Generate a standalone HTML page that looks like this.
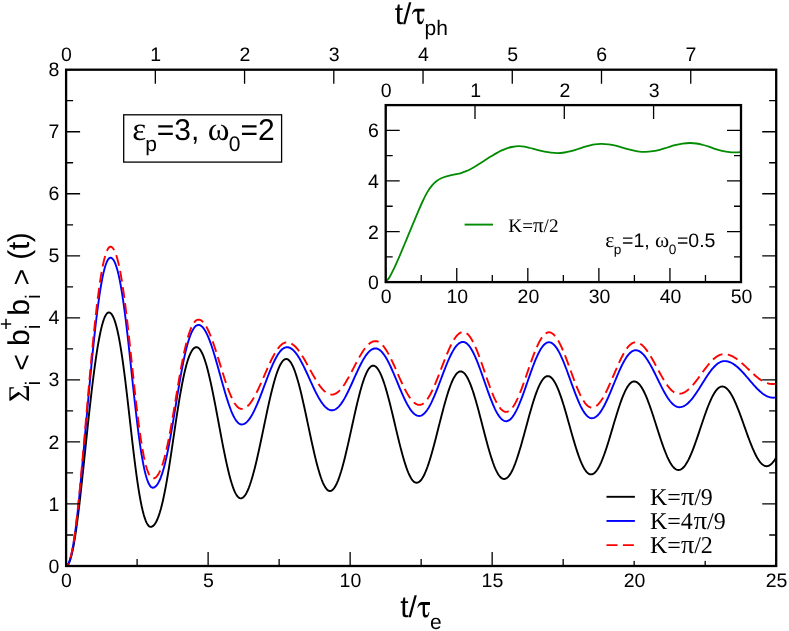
<!DOCTYPE html>
<html><head><meta charset="utf-8"><title>plot</title>
<style>
html,body{margin:0;padding:0;background:#fff;}
body{width:789px;height:631px;overflow:hidden;font-family:"Liberation Sans",sans-serif;}
svg{display:block;will-change:transform;}
text{fill:#000;text-rendering:geometricPrecision;}
</style></head><body>
<svg width="789" height="631" viewBox="0 0 789 631">
<rect x="0" y="0" width="789" height="631" fill="#fff"/>
<g fill="none" stroke-linejoin="round">
<path d="M66.10,566.00 L67.12,565.62 L68.14,564.49 L69.16,562.60 L70.18,559.95 L71.20,556.54 L72.21,552.38 L73.23,547.48 L74.25,541.87 L75.27,535.58 L76.29,528.65 L77.31,521.12 L78.33,513.07 L79.35,504.56 L80.37,495.66 L81.39,486.44 L82.41,476.98 L83.43,467.35 L84.44,457.62 L85.46,447.86 L86.48,438.13 L87.50,428.48 L88.52,418.97 L89.54,409.65 L90.56,400.56 L91.58,391.75 L92.60,383.25 L93.62,375.10 L94.64,367.34 L95.66,360.00 L96.67,353.12 L97.69,346.72 L98.71,340.82 L99.73,335.45 L100.75,330.62 L101.77,326.35 L102.79,322.64 L103.81,319.51 L104.83,316.94 L105.85,314.95 L106.87,313.53 L107.89,312.67 L108.90,312.39 L109.93,312.64 L110.95,313.40 L111.97,314.67 L112.99,316.46 L114.01,318.78 L115.03,321.64 L116.05,325.05 L117.07,329.02 L118.09,333.55 L119.11,338.65 L120.13,344.31 L121.15,350.52 L122.17,357.24 L123.19,364.46 L124.21,372.12 L125.23,380.19 L126.25,388.59 L127.27,397.26 L128.29,406.14 L129.31,415.13 L130.33,424.17 L131.36,433.17 L132.38,442.04 L133.40,450.72 L134.42,459.12 L135.44,467.18 L136.46,474.85 L137.48,482.07 L138.50,488.79 L139.52,495.00 L140.54,500.65 L141.56,505.76 L142.58,510.29 L143.60,514.26 L144.62,517.67 L145.64,520.53 L146.66,522.85 L147.68,524.64 L148.70,525.91 L149.72,526.66 L150.74,526.92 L151.76,526.74 L152.78,526.21 L153.79,525.33 L154.81,524.09 L155.83,522.48 L156.84,520.50 L157.86,518.14 L158.87,515.40 L159.89,512.26 L160.91,508.73 L161.92,504.81 L162.94,500.50 L163.95,495.80 L164.97,490.75 L165.99,485.34 L167.00,479.61 L168.02,473.59 L169.04,467.31 L170.05,460.82 L171.07,454.15 L172.08,447.35 L173.10,440.47 L174.12,433.57 L175.13,426.70 L176.15,419.90 L177.17,413.23 L178.18,406.73 L179.20,400.45 L180.21,394.43 L181.23,388.71 L182.25,383.30 L183.26,378.24 L184.28,373.55 L185.30,369.24 L186.31,365.32 L187.33,361.79 L188.34,358.65 L189.36,355.90 L190.38,353.54 L191.39,351.56 L192.41,349.96 L193.43,348.72 L194.44,347.83 L195.46,347.31 L196.47,347.13 L197.48,347.32 L198.49,347.90 L199.49,348.86 L200.50,350.19 L201.50,351.90 L202.51,353.97 L203.51,356.38 L204.52,359.14 L205.53,362.22 L206.53,365.60 L207.54,369.28 L208.54,373.23 L209.55,377.44 L210.55,381.87 L211.56,386.51 L212.57,391.34 L213.57,396.33 L214.58,401.45 L215.58,406.68 L216.59,411.99 L217.60,417.36 L218.60,422.76 L219.61,428.15 L220.61,433.52 L221.62,438.83 L222.62,444.06 L223.63,449.18 L224.64,454.17 L225.64,459.00 L226.65,463.64 L227.65,468.08 L228.66,472.28 L229.66,476.23 L230.67,479.91 L231.68,483.30 L232.68,486.37 L233.69,489.13 L234.69,491.55 L235.70,493.61 L236.70,495.32 L237.71,496.65 L238.72,497.61 L239.72,498.19 L240.73,498.38 L241.74,498.21 L242.75,497.70 L243.76,496.86 L244.77,495.68 L245.78,494.18 L246.79,492.35 L247.81,490.22 L248.82,487.79 L249.83,485.07 L250.84,482.07 L251.85,478.82 L252.86,475.32 L253.87,471.59 L254.88,467.66 L255.90,463.53 L256.91,459.23 L257.92,454.79 L258.93,450.22 L259.94,445.54 L260.95,440.78 L261.96,435.97 L262.97,431.11 L263.98,426.25 L265.00,421.39 L266.01,416.58 L267.02,411.82 L268.03,407.14 L269.04,402.57 L270.05,398.13 L271.06,393.83 L272.07,389.70 L273.09,385.77 L274.10,382.04 L275.11,378.54 L276.12,375.29 L277.13,372.29 L278.14,369.57 L279.15,367.14 L280.16,365.01 L281.18,363.18 L282.19,361.68 L283.20,360.50 L284.21,359.66 L285.22,359.15 L286.23,358.98 L287.25,359.16 L288.27,359.68 L289.28,360.56 L290.30,361.78 L291.32,363.34 L292.33,365.22 L293.35,367.43 L294.37,369.94 L295.39,372.74 L296.40,375.83 L297.42,379.17 L298.44,382.77 L299.46,386.58 L300.47,390.60 L301.49,394.81 L302.51,399.17 L303.52,403.68 L304.54,408.29 L305.56,413.00 L306.58,417.77 L307.59,422.58 L308.61,427.40 L309.63,432.21 L310.65,436.98 L311.66,441.68 L312.68,446.30 L313.70,450.80 L314.71,455.17 L315.73,459.37 L316.75,463.40 L317.77,467.21 L318.78,470.80 L319.80,474.15 L320.82,477.23 L321.84,480.04 L322.85,482.55 L323.87,484.76 L324.89,486.64 L325.90,488.20 L326.92,489.42 L327.94,490.29 L328.96,490.82 L329.97,491.00 L330.98,490.83 L331.98,490.33 L332.99,489.50 L333.99,488.34 L334.99,486.86 L336.00,485.07 L337.00,482.98 L338.01,480.59 L339.01,477.93 L340.01,475.00 L341.02,471.82 L342.02,468.41 L343.03,464.78 L344.03,460.96 L345.03,456.97 L346.04,452.83 L347.04,448.55 L348.05,444.16 L349.05,439.69 L350.05,435.16 L351.06,430.60 L352.06,426.02 L353.07,421.45 L354.07,416.92 L355.07,412.45 L356.08,408.07 L357.08,403.79 L358.09,399.64 L359.09,395.65 L360.09,391.83 L361.10,388.21 L362.10,384.80 L363.11,381.62 L364.11,378.69 L365.11,376.03 L366.12,373.64 L367.12,371.55 L368.13,369.76 L369.13,368.28 L370.14,367.12 L371.14,366.29 L372.14,365.79 L373.15,365.62 L374.16,365.78 L375.17,366.24 L376.18,367.02 L377.19,368.10 L378.20,369.49 L379.21,371.16 L380.22,373.12 L381.23,375.35 L382.24,377.84 L383.25,380.57 L384.26,383.54 L385.28,386.73 L386.29,390.12 L387.30,393.69 L388.31,397.42 L389.32,401.30 L390.33,405.29 L391.34,409.39 L392.35,413.57 L393.36,417.80 L394.37,422.07 L395.38,426.35 L396.39,430.62 L397.40,434.86 L398.41,439.03 L399.42,443.13 L400.43,447.13 L401.45,451.01 L402.46,454.74 L403.47,458.31 L404.48,461.69 L405.49,464.88 L406.50,467.85 L407.51,470.59 L408.52,473.08 L409.53,475.31 L410.54,477.27 L411.55,478.94 L412.56,480.32 L413.57,481.41 L414.58,482.18 L415.59,482.65 L416.61,482.81 L417.61,482.67 L418.61,482.24 L419.61,481.53 L420.61,480.55 L421.61,479.30 L422.61,477.77 L423.61,475.99 L424.61,473.96 L425.61,471.70 L426.61,469.20 L427.61,466.49 L428.61,463.58 L429.61,460.48 L430.61,457.22 L431.61,453.80 L432.61,450.24 L433.62,446.57 L434.62,442.79 L435.62,438.94 L436.62,435.03 L437.62,431.07 L438.62,427.10 L439.62,423.12 L440.62,419.17 L441.62,415.26 L442.62,411.40 L443.62,407.63 L444.62,403.96 L445.62,400.40 L446.62,396.98 L447.62,393.71 L448.62,390.62 L449.63,387.71 L450.63,385.00 L451.63,382.50 L452.63,380.23 L453.63,378.20 L454.63,376.42 L455.63,374.90 L456.63,373.64 L457.63,372.66 L458.63,371.96 L459.63,371.53 L460.63,371.39 L461.64,371.53 L462.65,371.96 L463.66,372.68 L464.67,373.67 L465.68,374.94 L466.70,376.48 L467.71,378.27 L468.72,380.32 L469.73,382.61 L470.74,385.12 L471.75,387.85 L472.76,390.78 L473.77,393.89 L474.78,397.17 L475.79,400.60 L476.80,404.16 L477.81,407.83 L478.82,411.59 L479.83,415.43 L480.84,419.32 L481.86,423.24 L482.87,427.17 L483.88,431.09 L484.89,434.98 L485.90,438.82 L486.91,442.58 L487.92,446.25 L488.93,449.81 L489.94,453.24 L490.95,456.52 L491.96,459.63 L492.97,462.56 L493.98,465.29 L494.99,467.80 L496.00,470.09 L497.02,472.14 L498.03,473.93 L499.04,475.47 L500.05,476.74 L501.06,477.74 L502.07,478.45 L503.08,478.88 L504.09,479.02 L505.11,478.89 L506.12,478.48 L507.14,477.79 L508.16,476.84 L509.18,475.63 L510.19,474.16 L511.21,472.44 L512.23,470.48 L513.25,468.29 L514.26,465.89 L515.28,463.28 L516.30,460.48 L517.31,457.51 L518.33,454.37 L519.35,451.09 L520.37,447.69 L521.38,444.18 L522.40,440.58 L523.42,436.91 L524.43,433.19 L525.45,429.44 L526.47,425.68 L527.49,421.94 L528.50,418.22 L529.52,414.55 L530.54,410.95 L531.56,407.44 L532.57,404.03 L533.59,400.76 L534.61,397.62 L535.62,394.65 L536.64,391.85 L537.66,389.24 L538.68,386.83 L539.69,384.65 L540.71,382.69 L541.73,380.97 L542.75,379.50 L543.76,378.29 L544.78,377.33 L545.80,376.65 L546.81,376.24 L547.83,376.10 L548.84,376.23 L549.84,376.63 L550.84,377.28 L551.85,378.19 L552.85,379.35 L553.86,380.75 L554.86,382.39 L555.86,384.26 L556.87,386.35 L557.87,388.65 L558.88,391.14 L559.88,393.82 L560.88,396.66 L561.89,399.66 L562.89,402.79 L563.90,406.04 L564.90,409.39 L565.90,412.83 L566.91,416.34 L567.91,419.89 L568.92,423.47 L569.92,427.06 L570.92,430.65 L571.93,434.20 L572.93,437.70 L573.94,441.14 L574.94,444.50 L575.95,447.75 L576.95,450.88 L577.95,453.87 L578.96,456.72 L579.96,459.39 L580.97,461.88 L581.97,464.18 L582.97,466.27 L583.98,468.14 L584.98,469.78 L585.99,471.19 L586.99,472.35 L587.99,473.26 L589.00,473.91 L590.00,474.30 L591.01,474.43 L592.01,474.31 L593.01,473.94 L594.02,473.32 L595.02,472.46 L596.03,471.36 L597.03,470.04 L598.03,468.48 L599.04,466.71 L600.04,464.74 L601.05,462.57 L602.05,460.21 L603.05,457.68 L604.06,454.99 L605.06,452.16 L606.07,449.20 L607.07,446.12 L608.07,442.95 L609.08,439.70 L610.08,436.38 L611.09,433.02 L612.09,429.63 L613.09,426.24 L614.10,422.85 L615.10,419.49 L616.11,416.17 L617.11,412.92 L618.12,409.75 L619.12,406.68 L620.12,403.71 L621.13,400.88 L622.13,398.19 L623.14,395.66 L624.14,393.31 L625.14,391.13 L626.15,389.16 L627.15,387.39 L628.16,385.83 L629.16,384.51 L630.16,383.41 L631.17,382.55 L632.17,381.93 L633.18,381.56 L634.18,381.44 L635.19,381.55 L636.19,381.89 L637.20,382.45 L638.21,383.23 L639.22,384.23 L640.22,385.44 L641.23,386.86 L642.24,388.47 L643.24,390.27 L644.25,392.26 L645.26,394.41 L646.26,396.73 L647.27,399.19 L648.28,401.79 L649.29,404.50 L650.29,407.33 L651.30,410.25 L652.31,413.25 L653.31,416.32 L654.32,419.43 L655.33,422.57 L656.34,425.73 L657.34,428.89 L658.35,432.04 L659.36,435.15 L660.36,438.21 L661.37,441.21 L662.38,444.13 L663.38,446.96 L664.39,449.68 L665.40,452.28 L666.41,454.74 L667.41,457.05 L668.42,459.21 L669.43,461.19 L670.43,463.00 L671.44,464.61 L672.45,466.03 L673.45,467.24 L674.46,468.23 L675.47,469.02 L676.48,469.58 L677.48,469.92 L678.49,470.03 L679.51,469.92 L680.52,469.58 L681.54,469.03 L682.56,468.26 L683.58,467.27 L684.59,466.08 L685.61,464.69 L686.63,463.10 L687.65,461.32 L688.66,459.37 L689.68,457.26 L690.70,454.98 L691.71,452.57 L692.73,450.03 L693.75,447.37 L694.77,444.61 L695.78,441.76 L696.80,438.84 L697.82,435.86 L698.84,432.84 L699.85,429.80 L700.87,426.75 L701.89,423.71 L702.90,420.69 L703.92,417.72 L704.94,414.80 L705.96,411.95 L706.97,409.19 L707.99,406.53 L709.01,403.98 L710.03,401.57 L711.04,399.30 L712.06,397.18 L713.08,395.23 L714.09,393.46 L715.11,391.87 L716.13,390.47 L717.15,389.28 L718.16,388.30 L719.18,387.52 L720.20,386.97 L721.22,386.64 L722.23,386.53 L723.24,386.63 L724.25,386.93 L725.25,387.44 L726.26,388.14 L727.27,389.04 L728.27,390.12 L729.28,391.40 L730.29,392.85 L731.30,394.47 L732.30,396.25 L733.31,398.19 L734.32,400.27 L735.32,402.49 L736.33,404.82 L737.34,407.27 L738.35,409.81 L739.35,412.44 L740.36,415.13 L741.37,417.89 L742.37,420.69 L743.38,423.51 L744.39,426.35 L745.39,429.19 L746.40,432.02 L747.41,434.82 L748.42,437.57 L749.42,440.27 L750.43,442.90 L751.44,445.44 L752.44,447.89 L753.45,450.22 L754.46,452.44 L755.47,454.52 L756.47,456.45 L757.48,458.24 L758.49,459.86 L759.49,461.31 L760.50,462.58 L761.51,463.67 L762.51,464.57 L763.52,465.27 L764.53,465.78 L765.54,466.08 L766.54,466.18 L767.56,466.08 L768.58,465.78 L769.59,465.28 L770.61,464.59 L771.63,463.70 L772.65,462.63 L773.66,461.38 L774.68,459.95 L775.70,458.35" stroke="#000" stroke-width="1.9"/>
<path d="M66.10,566.00 L67.11,565.58 L68.12,564.33 L69.13,562.23 L70.14,559.29 L71.14,555.52 L72.15,550.91 L73.16,545.48 L74.17,539.25 L75.18,532.24 L76.19,524.51 L77.20,516.10 L78.21,507.07 L79.22,497.48 L80.23,487.42 L81.23,476.95 L82.24,466.16 L83.25,455.13 L84.26,443.92 L85.27,432.62 L86.28,421.30 L87.29,410.01 L88.30,398.81 L89.31,387.77 L90.32,376.94 L91.32,366.35 L92.33,356.07 L93.34,346.13 L94.35,336.57 L95.36,327.43 L96.37,318.74 L97.38,310.55 L98.39,302.87 L99.40,295.74 L100.41,289.19 L101.41,283.23 L102.42,277.87 L103.43,273.14 L104.44,269.03 L105.45,265.55 L106.46,262.71 L107.47,260.51 L108.48,258.93 L109.49,257.99 L110.50,257.67 L111.50,257.93 L112.51,258.71 L113.51,260.00 L114.52,261.83 L115.52,264.20 L116.53,267.11 L117.53,270.59 L118.54,274.64 L119.55,279.27 L120.55,284.48 L121.56,290.26 L122.56,296.60 L123.57,303.48 L124.57,310.87 L125.58,318.74 L126.59,327.03 L127.59,335.69 L128.60,344.66 L129.60,353.87 L130.61,363.24 L131.61,372.69 L132.62,382.14 L133.63,391.51 L134.63,400.72 L135.64,409.69 L136.64,418.35 L137.65,426.65 L138.65,434.51 L139.66,441.91 L140.66,448.79 L141.67,455.13 L142.68,460.91 L143.68,466.11 L144.69,470.74 L145.69,474.79 L146.70,478.27 L147.70,481.19 L148.71,483.55 L149.72,485.38 L150.72,486.68 L151.73,487.45 L152.73,487.71 L153.75,487.55 L154.76,487.07 L155.78,486.27 L156.80,485.15 L157.81,483.69 L158.83,481.90 L159.85,479.77 L160.86,477.28 L161.88,474.44 L162.89,471.24 L163.91,467.69 L164.93,463.79 L165.94,459.54 L166.96,454.96 L167.98,450.06 L168.99,444.88 L170.01,439.43 L171.02,433.74 L172.04,427.86 L173.06,421.82 L174.07,415.66 L175.09,409.44 L176.11,403.19 L177.12,396.97 L178.14,390.81 L179.15,384.77 L180.17,378.89 L181.19,373.20 L182.20,367.75 L183.22,362.57 L184.24,357.67 L185.25,353.09 L186.27,348.85 L187.28,344.94 L188.30,341.39 L189.32,338.19 L190.33,335.35 L191.35,332.87 L192.37,330.73 L193.38,328.94 L194.40,327.48 L195.41,326.36 L196.43,325.56 L197.45,325.08 L198.46,324.92 L199.47,325.06 L200.47,325.45 L201.47,326.11 L202.48,327.03 L203.48,328.21 L204.49,329.63 L205.49,331.29 L206.50,333.19 L207.50,335.30 L208.50,337.63 L209.51,340.15 L210.51,342.86 L211.52,345.74 L212.52,348.77 L213.52,351.94 L214.53,355.24 L215.53,358.63 L216.54,362.12 L217.54,365.66 L218.54,369.26 L219.55,372.89 L220.55,376.53 L221.56,380.15 L222.56,383.75 L223.56,387.30 L224.57,390.78 L225.57,394.18 L226.58,397.47 L227.58,400.64 L228.58,403.68 L229.59,406.55 L230.59,409.26 L231.60,411.79 L232.60,414.11 L233.60,416.23 L234.61,418.12 L235.61,419.79 L236.62,421.21 L237.62,422.38 L238.62,423.30 L239.63,423.96 L240.63,424.36 L241.64,424.49 L242.64,424.40 L243.65,424.12 L244.66,423.65 L245.66,423.00 L246.67,422.16 L247.68,421.15 L248.68,419.97 L249.69,418.62 L250.70,417.11 L251.70,415.45 L252.71,413.65 L253.72,411.70 L254.72,409.64 L255.73,407.46 L256.74,405.17 L257.74,402.79 L258.75,400.32 L259.76,397.79 L260.77,395.19 L261.77,392.55 L262.78,389.88 L263.79,387.19 L264.79,384.49 L265.80,381.80 L266.81,379.13 L267.81,376.49 L268.82,373.90 L269.83,371.36 L270.83,368.90 L271.84,366.52 L272.85,364.23 L273.85,362.05 L274.86,359.98 L275.87,358.04 L276.87,356.24 L277.88,354.58 L278.89,353.07 L279.89,351.72 L280.90,350.54 L281.91,349.52 L282.91,348.69 L283.92,348.04 L284.93,347.57 L285.93,347.29 L286.94,347.19 L287.94,347.27 L288.94,347.50 L289.94,347.88 L290.94,348.42 L291.94,349.10 L292.94,349.92 L293.94,350.89 L294.94,351.99 L295.95,353.22 L296.95,354.57 L297.95,356.05 L298.95,357.63 L299.95,359.32 L300.95,361.10 L301.95,362.97 L302.95,364.91 L303.95,366.92 L304.95,368.99 L305.95,371.11 L306.95,373.26 L307.95,375.44 L308.95,377.64 L309.95,379.84 L310.95,382.04 L311.95,384.22 L312.95,386.37 L313.95,388.49 L314.95,390.56 L315.95,392.57 L316.95,394.51 L317.96,396.38 L318.96,398.16 L319.96,399.85 L320.96,401.43 L321.96,402.91 L322.96,404.26 L323.96,405.49 L324.96,406.59 L325.96,407.56 L326.96,408.38 L327.96,409.06 L328.96,409.60 L329.96,409.98 L330.96,410.21 L331.96,410.29 L332.97,410.20 L333.98,409.96 L334.99,409.55 L336.00,408.97 L337.01,408.25 L338.03,407.36 L339.04,406.33 L340.05,405.15 L341.06,403.84 L342.07,402.39 L343.08,400.82 L344.09,399.14 L345.10,397.35 L346.11,395.47 L347.12,393.50 L348.13,391.46 L349.14,389.35 L350.15,387.18 L351.16,384.98 L352.17,382.74 L353.19,380.49 L354.20,378.23 L355.21,375.98 L356.22,373.74 L357.23,371.54 L358.24,369.37 L359.25,367.26 L360.26,365.22 L361.27,363.25 L362.28,361.37 L363.29,359.58 L364.30,357.90 L365.31,356.33 L366.32,354.88 L367.33,353.57 L368.34,352.39 L369.36,351.36 L370.37,350.48 L371.38,349.75 L372.39,349.17 L373.40,348.76 L374.41,348.52 L375.42,348.43 L376.44,348.52 L377.45,348.79 L378.47,349.24 L379.49,349.87 L380.51,350.66 L381.52,351.63 L382.54,352.75 L383.56,354.04 L384.57,355.47 L385.59,357.05 L386.61,358.76 L387.63,360.59 L388.64,362.55 L389.66,364.60 L390.68,366.75 L391.70,368.98 L392.71,371.29 L393.73,373.65 L394.75,376.05 L395.76,378.49 L396.78,380.95 L397.80,383.42 L398.82,385.87 L399.83,388.31 L400.85,390.72 L401.87,393.08 L402.89,395.38 L403.90,397.61 L404.92,399.76 L405.94,401.82 L406.95,403.77 L407.97,405.61 L408.99,407.32 L410.01,408.89 L411.02,410.33 L412.04,411.61 L413.06,412.74 L414.08,413.70 L415.09,414.50 L416.11,415.12 L417.13,415.57 L418.14,415.84 L419.16,415.93 L420.18,415.83 L421.20,415.54 L422.21,415.05 L423.23,414.36 L424.25,413.49 L425.27,412.43 L426.28,411.20 L427.30,409.79 L428.32,408.22 L429.33,406.49 L430.35,404.61 L431.37,402.60 L432.39,400.46 L433.40,398.20 L434.42,395.85 L435.44,393.40 L436.46,390.87 L437.47,388.29 L438.49,385.65 L439.51,382.97 L440.52,380.28 L441.54,377.57 L442.56,374.88 L443.58,372.20 L444.59,369.57 L445.61,366.98 L446.63,364.45 L447.64,362.01 L448.66,359.65 L449.68,357.39 L450.70,355.25 L451.71,353.24 L452.73,351.37 L453.75,349.64 L454.77,348.06 L455.78,346.66 L456.80,345.42 L457.82,344.36 L458.83,343.49 L459.85,342.81 L460.87,342.31 L461.89,342.02 L462.90,341.92 L463.91,342.03 L464.91,342.34 L465.92,342.87 L466.92,343.60 L467.92,344.54 L468.93,345.67 L469.93,346.99 L470.94,348.50 L471.94,350.19 L472.94,352.04 L473.95,354.05 L474.95,356.20 L475.96,358.50 L476.96,360.91 L477.96,363.44 L478.97,366.06 L479.97,368.76 L480.98,371.54 L481.98,374.36 L482.98,377.23 L483.99,380.11 L484.99,383.01 L486.00,385.90 L487.00,388.76 L488.01,391.59 L489.01,394.36 L490.01,397.07 L491.02,399.69 L492.02,402.21 L493.03,404.63 L494.03,406.92 L495.03,409.08 L496.04,411.09 L497.04,412.94 L498.05,414.62 L499.05,416.13 L500.05,417.46 L501.06,418.59 L502.06,419.52 L503.07,420.26 L504.07,420.78 L505.07,421.10 L506.08,421.20 L507.10,421.09 L508.12,420.76 L509.14,420.21 L510.16,419.45 L511.18,418.47 L512.21,417.29 L513.23,415.91 L514.25,414.34 L515.27,412.59 L516.29,410.66 L517.31,408.58 L518.33,406.34 L519.35,403.96 L520.37,401.46 L521.40,398.85 L522.42,396.14 L523.44,393.36 L524.46,390.50 L525.48,387.60 L526.50,384.67 L527.52,381.72 L528.54,378.77 L529.57,375.83 L530.59,372.93 L531.61,370.08 L532.63,367.29 L533.65,364.58 L534.67,361.97 L535.69,359.47 L536.71,357.10 L537.73,354.86 L538.76,352.77 L539.78,350.85 L540.80,349.09 L541.82,347.52 L542.84,346.14 L543.86,344.96 L544.88,343.99 L545.90,343.22 L546.93,342.67 L547.95,342.34 L548.97,342.23 L549.99,342.34 L551.01,342.66 L552.03,343.18 L553.05,343.92 L554.07,344.86 L555.10,345.99 L556.12,347.32 L557.14,348.83 L558.16,350.52 L559.18,352.37 L560.20,354.38 L561.22,356.54 L562.24,358.82 L563.26,361.23 L564.29,363.74 L565.31,366.35 L566.33,369.03 L567.35,371.77 L568.37,374.57 L569.39,377.39 L570.41,380.23 L571.43,383.07 L572.46,385.89 L573.48,388.68 L574.50,391.43 L575.52,394.11 L576.54,396.72 L577.56,399.23 L578.58,401.63 L579.60,403.92 L580.62,406.07 L581.65,408.08 L582.67,409.94 L583.69,411.62 L584.71,413.14 L585.73,414.46 L586.75,415.60 L587.77,416.54 L588.79,417.27 L589.82,417.80 L590.84,418.12 L591.86,418.23 L592.88,418.14 L593.89,417.86 L594.91,417.41 L595.93,416.79 L596.94,415.98 L597.96,415.01 L598.98,413.88 L600.00,412.58 L601.01,411.14 L602.03,409.55 L603.05,407.83 L604.07,405.98 L605.08,404.01 L606.10,401.94 L607.12,399.77 L608.13,397.53 L609.15,395.21 L610.17,392.83 L611.19,390.41 L612.20,387.95 L613.22,385.47 L614.24,382.99 L615.26,380.51 L616.27,378.06 L617.29,375.63 L618.31,373.25 L619.32,370.93 L620.34,368.69 L621.36,366.52 L622.38,364.45 L623.39,362.48 L624.41,360.63 L625.43,358.91 L626.44,357.32 L627.46,355.88 L628.48,354.58 L629.50,353.45 L630.51,352.48 L631.53,351.68 L632.55,351.05 L633.57,350.60 L634.58,350.32 L635.60,350.23 L636.62,350.31 L637.63,350.54 L638.65,350.91 L639.67,351.44 L640.69,352.11 L641.70,352.93 L642.72,353.88 L643.74,354.96 L644.76,356.17 L645.77,357.50 L646.79,358.94 L647.81,360.49 L648.82,362.14 L649.84,363.87 L650.86,365.69 L651.88,367.57 L652.89,369.51 L653.91,371.51 L654.93,373.54 L655.95,375.59 L656.96,377.67 L657.98,379.75 L659.00,381.82 L660.01,383.88 L661.03,385.91 L662.05,387.90 L663.07,389.85 L664.08,391.73 L665.10,393.54 L666.12,395.28 L667.14,396.92 L668.15,398.47 L669.17,399.92 L670.19,401.25 L671.20,402.46 L672.22,403.54 L673.24,404.49 L674.26,405.31 L675.27,405.98 L676.29,406.50 L677.31,406.88 L678.33,407.11 L679.34,407.18 L680.35,407.13 L681.35,406.96 L682.35,406.68 L683.36,406.29 L684.36,405.79 L685.36,405.19 L686.37,404.49 L687.37,403.68 L688.37,402.78 L689.38,401.79 L690.38,400.72 L691.39,399.56 L692.39,398.33 L693.39,397.02 L694.40,395.66 L695.40,394.24 L696.40,392.77 L697.41,391.26 L698.41,389.71 L699.41,388.14 L700.42,386.55 L701.42,384.94 L702.43,383.33 L703.43,381.73 L704.43,380.14 L705.44,378.56 L706.44,377.02 L707.44,375.50 L708.45,374.03 L709.45,372.61 L710.45,371.25 L711.46,369.95 L712.46,368.72 L713.47,367.56 L714.47,366.48 L715.47,365.49 L716.48,364.59 L717.48,363.79 L718.48,363.08 L719.49,362.48 L720.49,361.98 L721.49,361.59 L722.50,361.31 L723.50,361.15 L724.50,361.09 L725.52,361.13 L726.54,361.25 L727.56,361.44 L728.58,361.71 L729.59,362.06 L730.61,362.48 L731.63,362.98 L732.65,363.54 L733.67,364.17 L734.68,364.87 L735.70,365.63 L736.72,366.45 L737.74,367.32 L738.75,368.25 L739.77,369.22 L740.79,370.24 L741.81,371.30 L742.83,372.39 L743.84,373.51 L744.86,374.65 L745.88,375.82 L746.90,377.00 L747.91,378.19 L748.93,379.39 L749.95,380.59 L750.97,381.78 L751.99,382.96 L753.00,384.13 L754.02,385.27 L755.04,386.39 L756.06,387.49 L757.07,388.54 L758.09,389.56 L759.11,390.53 L760.13,391.46 L761.15,392.33 L762.16,393.15 L763.18,393.91 L764.20,394.61 L765.22,395.24 L766.23,395.80 L767.25,396.30 L768.27,396.72 L769.29,397.07 L770.31,397.34 L771.32,397.54 L772.34,397.65 L773.36,397.69 L774.37,397.65 L775.39,397.52" stroke="#00f" stroke-width="1.9"/>
<path d="M66.10,566.00 L67.11,565.57 L68.12,564.27 L69.13,562.10 L70.14,559.05 L71.14,555.14 L72.15,550.37 L73.16,544.75 L74.17,538.29 L75.18,531.04 L76.19,523.03 L77.20,514.32 L78.21,504.97 L79.22,495.04 L80.23,484.62 L81.23,473.78 L82.24,462.61 L83.25,451.18 L84.26,439.58 L85.27,427.87 L86.28,416.14 L87.29,404.45 L88.30,392.86 L89.31,381.42 L90.32,370.20 L91.32,359.24 L92.33,348.59 L93.34,338.30 L94.35,328.40 L95.36,318.93 L96.37,309.94 L97.38,301.45 L98.39,293.50 L99.40,286.12 L100.41,279.33 L101.41,273.15 L102.42,267.61 L103.43,262.71 L104.44,258.45 L105.45,254.85 L106.46,251.91 L107.47,249.63 L108.48,248.00 L109.49,247.02 L110.50,246.69 L111.51,246.95 L112.52,247.73 L113.53,249.04 L114.55,250.88 L115.56,253.27 L116.57,256.21 L117.58,259.71 L118.59,263.80 L119.61,268.46 L120.62,273.71 L121.63,279.53 L122.64,285.92 L123.66,292.85 L124.67,300.30 L125.68,308.23 L126.69,316.59 L127.71,325.32 L128.72,334.36 L129.73,343.64 L130.74,353.09 L131.76,362.61 L132.77,372.13 L133.78,381.58 L134.79,390.86 L135.81,399.90 L136.82,408.63 L137.83,416.99 L138.84,424.92 L139.86,432.37 L140.87,439.30 L141.88,445.69 L142.89,451.51 L143.90,456.76 L144.92,461.42 L145.93,465.51 L146.94,469.01 L147.95,471.95 L148.97,474.34 L149.98,476.18 L150.99,477.49 L152.00,478.27 L153.02,478.53 L154.03,478.37 L155.04,477.91 L156.05,477.13 L157.06,476.03 L158.07,474.61 L159.08,472.86 L160.09,470.77 L161.10,468.34 L162.11,465.57 L163.12,462.45 L164.13,458.98 L165.14,455.17 L166.15,451.02 L167.16,446.55 L168.17,441.77 L169.17,436.71 L170.18,431.39 L171.19,425.84 L172.20,420.09 L173.21,414.20 L174.22,408.19 L175.23,402.11 L176.24,396.01 L177.25,389.93 L178.26,383.92 L179.27,378.02 L180.28,372.28 L181.29,366.73 L182.30,361.41 L183.31,356.34 L184.32,351.56 L185.33,347.09 L186.34,342.94 L187.35,339.13 L188.36,335.66 L189.37,332.54 L190.38,329.77 L191.39,327.34 L192.40,325.26 L193.41,323.51 L194.42,322.09 L195.43,320.99 L196.44,320.21 L197.45,319.74 L198.46,319.59 L199.47,319.71 L200.47,320.06 L201.47,320.66 L202.48,321.48 L203.48,322.53 L204.49,323.81 L205.49,325.30 L206.50,327.00 L207.50,328.90 L208.50,330.99 L209.51,333.25 L210.51,335.68 L211.52,338.26 L212.52,340.99 L213.52,343.83 L214.53,346.78 L215.53,349.83 L216.54,352.96 L217.54,356.14 L218.54,359.37 L219.55,362.62 L220.55,365.89 L221.56,369.14 L222.56,372.37 L223.56,375.55 L224.57,378.68 L225.57,381.72 L226.58,384.68 L227.58,387.52 L228.58,390.24 L229.59,392.83 L230.59,395.26 L231.60,397.52 L232.60,399.61 L233.60,401.51 L234.61,403.21 L235.61,404.70 L236.62,405.97 L237.62,407.03 L238.62,407.85 L239.63,408.45 L240.63,408.80 L241.64,408.92 L242.64,408.84 L243.65,408.60 L244.66,408.19 L245.66,407.63 L246.67,406.91 L247.68,406.04 L248.68,405.02 L249.69,403.86 L250.70,402.56 L251.70,401.13 L252.71,399.57 L253.72,397.90 L254.72,396.12 L255.73,394.24 L256.74,392.26 L257.74,390.21 L258.75,388.09 L259.76,385.90 L260.77,383.67 L261.77,381.39 L262.78,379.09 L263.79,376.77 L264.79,374.44 L265.80,372.12 L266.81,369.82 L267.81,367.55 L268.82,365.31 L269.83,363.13 L270.83,361.00 L271.84,358.95 L272.85,356.98 L273.85,355.10 L274.86,353.32 L275.87,351.64 L276.87,350.09 L277.88,348.66 L278.89,347.35 L279.89,346.19 L280.90,345.17 L281.91,344.30 L282.91,343.58 L283.92,343.02 L284.93,342.62 L285.93,342.37 L286.94,342.29 L287.96,342.36 L288.98,342.56 L290.00,342.89 L291.02,343.35 L292.04,343.94 L293.06,344.66 L294.09,345.49 L295.11,346.44 L296.13,347.51 L297.15,348.68 L298.17,349.95 L299.19,351.32 L300.21,352.77 L301.23,354.30 L302.25,355.91 L303.27,357.58 L304.29,359.30 L305.31,361.07 L306.33,362.88 L307.35,364.72 L308.37,366.58 L309.39,368.44 L310.42,370.31 L311.44,372.16 L312.46,374.00 L313.48,375.81 L314.50,377.58 L315.52,379.30 L316.54,380.97 L317.56,382.58 L318.58,384.11 L319.60,385.57 L320.62,386.93 L321.64,388.20 L322.66,389.37 L323.68,390.44 L324.70,391.39 L325.72,392.23 L326.74,392.94 L327.77,393.53 L328.79,393.99 L329.81,394.32 L330.83,394.52 L331.85,394.59 L332.86,394.52 L333.87,394.31 L334.89,393.95 L335.90,393.46 L336.91,392.83 L337.93,392.06 L338.94,391.17 L339.95,390.15 L340.97,389.02 L341.98,387.77 L342.99,386.41 L344.01,384.96 L345.02,383.41 L346.03,381.78 L347.05,380.08 L348.06,378.31 L349.07,376.49 L350.09,374.62 L351.10,372.71 L352.11,370.78 L353.13,368.83 L354.14,366.88 L355.15,364.93 L356.17,363.00 L357.18,361.09 L358.19,359.22 L359.21,357.39 L360.22,355.63 L361.23,353.92 L362.25,352.29 L363.26,350.75 L364.27,349.29 L365.29,347.94 L366.30,346.69 L367.31,345.55 L368.33,344.54 L369.34,343.64 L370.35,342.88 L371.37,342.25 L372.38,341.75 L373.39,341.40 L374.41,341.19 L375.42,341.11 L376.42,341.20 L377.42,341.44 L378.42,341.84 L379.42,342.41 L380.42,343.12 L381.42,344.00 L382.42,345.01 L383.42,346.18 L384.42,347.47 L385.43,348.90 L386.43,350.45 L387.43,352.12 L388.43,353.89 L389.43,355.76 L390.43,357.72 L391.43,359.75 L392.43,361.86 L393.43,364.02 L394.43,366.22 L395.43,368.46 L396.43,370.73 L397.43,373.00 L398.43,375.28 L399.43,377.54 L400.43,379.78 L401.44,381.99 L402.44,384.14 L403.44,386.25 L404.44,388.28 L405.44,390.24 L406.44,392.11 L407.44,393.88 L408.44,395.55 L409.44,397.10 L410.44,398.53 L411.44,399.83 L412.44,400.99 L413.44,402.01 L414.44,402.88 L415.44,403.60 L416.44,404.16 L417.44,404.56 L418.45,404.81 L419.45,404.89 L420.46,404.79 L421.48,404.50 L422.50,404.02 L423.51,403.34 L424.53,402.48 L425.55,401.44 L426.57,400.23 L427.58,398.84 L428.60,397.29 L429.62,395.59 L430.64,393.74 L431.65,391.76 L432.67,389.65 L433.69,387.43 L434.70,385.11 L435.72,382.70 L436.74,380.21 L437.76,377.66 L438.77,375.06 L439.79,372.43 L440.81,369.77 L441.83,367.11 L442.84,364.46 L443.86,361.82 L444.88,359.22 L445.89,356.67 L446.91,354.19 L447.93,351.78 L448.95,349.45 L449.96,347.23 L450.98,345.13 L452.00,343.14 L453.02,341.30 L454.03,339.59 L455.05,338.04 L456.07,336.66 L457.08,335.44 L458.10,334.40 L459.12,333.54 L460.14,332.87 L461.15,332.38 L462.17,332.09 L463.19,331.99 L464.21,332.11 L465.23,332.44 L466.25,333.00 L467.27,333.77 L468.29,334.75 L469.32,335.95 L470.34,337.34 L471.36,338.93 L472.38,340.70 L473.40,342.65 L474.42,344.76 L475.44,347.03 L476.46,349.43 L477.48,351.96 L478.51,354.59 L479.53,357.33 L480.55,360.15 L481.57,363.03 L482.59,365.97 L483.61,368.93 L484.63,371.92 L485.65,374.90 L486.68,377.87 L487.70,380.80 L488.72,383.68 L489.74,386.50 L490.76,389.24 L491.78,391.88 L492.80,394.40 L493.82,396.81 L494.84,399.07 L495.87,401.18 L496.89,403.13 L497.91,404.90 L498.93,406.49 L499.95,407.88 L500.97,409.08 L501.99,410.06 L503.01,410.84 L504.04,411.39 L505.06,411.73 L506.08,411.84 L507.10,411.73 L508.12,411.39 L509.14,410.84 L510.16,410.07 L511.18,409.09 L512.21,407.90 L513.23,406.51 L514.25,404.93 L515.27,403.16 L516.29,401.22 L517.31,399.12 L518.33,396.86 L519.35,394.47 L520.37,391.95 L521.40,389.32 L522.42,386.60 L523.44,383.79 L524.46,380.92 L525.48,378.00 L526.50,375.04 L527.52,372.07 L528.54,369.10 L529.57,366.14 L530.59,363.22 L531.61,360.35 L532.63,357.54 L533.65,354.82 L534.67,352.19 L535.69,349.67 L536.71,347.28 L537.73,345.02 L538.76,342.92 L539.78,340.98 L540.80,339.21 L541.82,337.63 L542.84,336.24 L543.86,335.05 L544.88,334.07 L545.90,333.30 L546.93,332.75 L547.95,332.42 L548.97,332.30 L549.99,332.41 L551.01,332.73 L552.03,333.25 L553.05,333.98 L554.07,334.91 L555.10,336.03 L556.12,337.35 L557.14,338.85 L558.16,340.52 L559.18,342.36 L560.20,344.35 L561.22,346.48 L562.24,348.75 L563.26,351.13 L564.29,353.62 L565.31,356.20 L566.33,358.86 L567.35,361.58 L568.37,364.35 L569.39,367.15 L570.41,369.96 L571.43,372.78 L572.46,375.57 L573.48,378.34 L574.50,381.06 L575.52,383.72 L576.54,386.30 L577.56,388.79 L578.58,391.17 L579.60,393.44 L580.62,395.57 L581.65,397.57 L582.67,399.40 L583.69,401.07 L584.71,402.57 L585.73,403.89 L586.75,405.02 L587.77,405.95 L588.79,406.67 L589.82,407.20 L590.84,407.51 L591.86,407.62 L592.88,407.53 L593.89,407.27 L594.91,406.84 L595.93,406.23 L596.94,405.46 L597.96,404.53 L598.98,403.44 L600.00,402.20 L601.01,400.81 L602.03,399.28 L603.05,397.63 L604.07,395.85 L605.08,393.96 L606.10,391.97 L607.12,389.89 L608.13,387.73 L609.15,385.50 L610.17,383.22 L611.19,380.89 L612.20,378.53 L613.22,376.15 L614.24,373.76 L615.26,371.38 L616.27,369.02 L617.29,366.69 L618.31,364.41 L619.32,362.18 L620.34,360.02 L621.36,357.94 L622.38,355.95 L623.39,354.06 L624.41,352.29 L625.43,350.63 L626.44,349.10 L627.46,347.71 L628.48,346.47 L629.50,345.38 L630.51,344.45 L631.53,343.68 L632.55,343.07 L633.57,342.64 L634.58,342.38 L635.60,342.29 L636.60,342.36 L637.61,342.57 L638.61,342.91 L639.62,343.38 L640.62,343.99 L641.62,344.73 L642.63,345.59 L643.63,346.57 L644.64,347.66 L645.64,348.86 L646.64,350.17 L647.65,351.57 L648.65,353.06 L649.66,354.63 L650.66,356.27 L651.66,357.97 L652.67,359.73 L653.67,361.53 L654.68,363.36 L655.68,365.22 L656.69,367.10 L657.69,368.98 L658.69,370.85 L659.70,372.71 L660.70,374.55 L661.71,376.35 L662.71,378.11 L663.71,379.81 L664.72,381.45 L665.72,383.02 L666.73,384.51 L667.73,385.91 L668.73,387.21 L669.74,388.42 L670.74,389.51 L671.75,390.49 L672.75,391.35 L673.75,392.09 L674.76,392.69 L675.76,393.17 L676.77,393.51 L677.77,393.72 L678.77,393.78 L679.78,393.74 L680.78,393.59 L681.79,393.35 L682.79,393.02 L683.79,392.59 L684.80,392.07 L685.80,391.46 L686.80,390.77 L687.81,390.00 L688.81,389.15 L689.81,388.22 L690.82,387.23 L691.82,386.17 L692.82,385.05 L693.83,383.87 L694.83,382.65 L695.84,381.39 L696.84,380.09 L697.84,378.76 L698.85,377.40 L699.85,376.03 L700.85,374.65 L701.86,373.27 L702.86,371.89 L703.86,370.52 L704.87,369.17 L705.87,367.84 L706.88,366.54 L707.88,365.27 L708.88,364.05 L709.89,362.88 L710.89,361.76 L711.89,360.70 L712.90,359.70 L713.90,358.78 L714.90,357.93 L715.91,357.15 L716.91,356.46 L717.91,355.86 L718.92,355.34 L719.92,354.91 L720.93,354.58 L721.93,354.33 L722.93,354.19 L723.94,354.14 L724.95,354.17 L725.96,354.27 L726.97,354.43 L727.98,354.65 L729.00,354.93 L730.01,355.28 L731.02,355.68 L732.03,356.14 L733.04,356.66 L734.06,357.23 L735.07,357.84 L736.08,358.51 L737.09,359.22 L738.10,359.98 L739.12,360.77 L740.13,361.60 L741.14,362.46 L742.15,363.35 L743.16,364.27 L744.17,365.20 L745.19,366.15 L746.20,367.11 L747.21,368.09 L748.22,369.06 L749.23,370.04 L750.25,371.01 L751.26,371.97 L752.27,372.92 L753.28,373.86 L754.29,374.77 L755.31,375.66 L756.32,376.52 L757.33,377.35 L758.34,378.14 L759.35,378.90 L760.36,379.61 L761.38,380.28 L762.39,380.90 L763.40,381.47 L764.41,381.98 L765.42,382.44 L766.44,382.85 L767.45,383.19 L768.46,383.47 L769.47,383.70 L770.48,383.85 L771.50,383.95 L772.51,383.98 L773.52,383.95 L774.53,383.86 L775.54,383.71" stroke="#f00" stroke-width="1.9" stroke-dasharray="10.945 5.373" stroke-dashoffset="7.23"/>
<path d="M385.70,282.00 C385.90,281.77 386.27,281.40 386.90,280.60 C387.53,279.80 388.27,279.32 389.50,277.20 C390.73,275.08 392.72,271.20 394.30,267.90 C395.88,264.60 397.42,261.05 399.00,257.40 C400.58,253.75 402.22,249.80 403.80,246.00 C405.38,242.20 406.92,238.40 408.50,234.60 C410.08,230.80 411.72,227.00 413.30,223.20 C414.88,219.40 416.42,215.50 418.00,211.80 C419.58,208.10 421.22,204.32 422.80,201.00 C424.38,197.68 425.92,194.53 427.50,191.90 C429.08,189.27 430.72,187.05 432.30,185.20 C433.88,183.35 435.42,182.00 437.00,180.80 C438.58,179.60 440.22,178.75 441.80,178.00 C443.38,177.25 444.92,176.78 446.50,176.30 C448.08,175.82 449.72,175.45 451.30,175.10 C452.88,174.75 454.38,174.53 456.00,174.20 C457.62,173.87 459.30,173.60 461.00,173.10 C462.70,172.60 464.48,171.93 466.20,171.20 C467.92,170.47 469.60,169.60 471.30,168.70 C473.00,167.80 474.72,166.82 476.40,165.80 C478.08,164.78 479.72,163.68 481.40,162.60 C483.08,161.52 484.80,160.38 486.50,159.30 C488.20,158.22 489.92,157.13 491.60,156.10 C493.28,155.07 494.92,154.05 496.60,153.10 C498.28,152.15 500.00,151.20 501.70,150.40 C503.40,149.60 505.12,148.87 506.80,148.30 C508.48,147.73 509.83,147.35 511.80,147.00 C513.77,146.65 516.48,146.25 518.60,146.20 C520.72,146.15 522.57,146.40 524.50,146.70 C526.43,147.00 528.12,147.47 530.20,148.00 C532.28,148.53 534.60,149.28 537.00,149.90 C539.40,150.52 542.27,151.23 544.60,151.70 C546.93,152.17 548.80,152.47 551.00,152.70 C553.20,152.93 555.55,153.13 557.80,153.10 C560.05,153.07 562.30,152.83 564.50,152.50 C566.70,152.17 568.75,151.68 571.00,151.10 C573.25,150.52 575.63,149.73 578.00,149.00 C580.37,148.27 582.70,147.42 585.20,146.70 C587.70,145.98 590.30,145.18 593.00,144.70 C595.70,144.22 598.82,143.87 601.40,143.80 C603.98,143.73 606.13,144.00 608.50,144.30 C610.87,144.60 613.27,145.05 615.60,145.60 C617.93,146.15 620.13,146.92 622.50,147.60 C624.87,148.28 627.30,149.08 629.80,149.70 C632.30,150.32 634.93,150.93 637.50,151.30 C640.07,151.67 642.62,151.92 645.20,151.90 C647.78,151.88 650.43,151.58 653.00,151.20 C655.57,150.82 658.18,150.22 660.60,149.60 C663.02,148.98 665.13,148.23 667.50,147.50 C669.87,146.77 672.30,145.85 674.80,145.20 C677.30,144.55 679.97,143.97 682.50,143.60 C685.03,143.23 687.67,143.02 690.00,143.00 C692.33,142.98 694.30,143.17 696.50,143.50 C698.70,143.83 700.90,144.38 703.20,145.00 C705.50,145.62 707.93,146.42 710.30,147.20 C712.67,147.98 715.03,149.00 717.40,149.70 C719.77,150.40 722.13,150.97 724.50,151.40 C726.87,151.83 729.68,152.13 731.60,152.30 C733.52,152.47 734.43,152.45 736.00,152.40 C737.57,152.35 740.17,152.07 741.00,152.00" stroke="#008b00" stroke-width="1.8"/>
</g>
<path d="M66.10,566.00 H80.10 M776.20,566.00 H762.20 M66.10,534.98 H73.10 M776.20,534.98 H769.20 M66.10,503.96 H80.10 M776.20,503.96 H762.20 M66.10,472.94 H73.10 M776.20,472.94 H769.20 M66.10,441.93 H80.10 M776.20,441.93 H762.20 M66.10,410.91 H73.10 M776.20,410.91 H769.20 M66.10,379.89 H80.10 M776.20,379.89 H762.20 M66.10,348.87 H73.10 M776.20,348.87 H769.20 M66.10,317.85 H80.10 M776.20,317.85 H762.20 M66.10,286.83 H73.10 M776.20,286.83 H769.20 M66.10,255.81 H80.10 M776.20,255.81 H762.20 M66.10,224.79 H73.10 M776.20,224.79 H769.20 M66.10,193.77 H80.10 M776.20,193.77 H762.20 M66.10,162.76 H73.10 M776.20,162.76 H769.20 M66.10,131.74 H80.10 M776.20,131.74 H762.20 M66.10,100.72 H73.10 M776.20,100.72 H769.20 M66.10,69.70 H80.10 M776.20,69.70 H762.20 M66.10,566.00 V552.00 M137.11,566.00 V559.00 M208.12,566.00 V552.00 M279.13,566.00 V559.00 M350.14,566.00 V552.00 M421.15,566.00 V559.00 M492.16,566.00 V552.00 M563.17,566.00 V559.00 M634.18,566.00 V552.00 M705.19,566.00 V559.00 M776.20,566.00 V552.00 M66.10,69.70 V83.70 M155.33,69.70 V83.70 M244.57,69.70 V83.70 M333.80,69.70 V83.70 M423.04,69.70 V83.70 M512.27,69.70 V83.70 M601.50,69.70 V83.70 M690.74,69.70 V83.70 M385.70,282.10 H399.70 M741.00,282.10 H727.00 M385.70,256.81 H392.70 M741.00,256.81 H734.00 M385.70,231.53 H399.70 M741.00,231.53 H727.00 M385.70,206.24 H392.70 M741.00,206.24 H734.00 M385.70,180.96 H399.70 M741.00,180.96 H727.00 M385.70,155.67 H392.70 M741.00,155.67 H734.00 M385.70,130.39 H399.70 M741.00,130.39 H727.00 M385.70,105.10 H392.70 M741.00,105.10 H734.00 M385.70,282.10 V268.10 M421.23,282.10 V275.10 M456.76,282.10 V268.10 M492.29,282.10 V275.10 M527.82,282.10 V268.10 M563.35,282.10 V275.10 M598.88,282.10 V268.10 M634.41,282.10 V275.10 M669.94,282.10 V268.10 M705.47,282.10 V275.10 M741.00,282.10 V268.10 M385.70,105.10 V119.10 M475.00,105.10 V119.10 M564.29,105.10 V119.10 M653.59,105.10 V119.10" stroke="#000" stroke-width="1.3" fill="none"/>
<rect x="66.1" y="69.7" width="710.1" height="496.3" fill="none" stroke="#000" stroke-width="2.3"/>
<rect x="385.7" y="105.1" width="355.3" height="177.00000000000003" fill="none" stroke="#000" stroke-width="2.3"/>
<rect x="123.7" y="114.8" width="157.9" height="47.3" fill="#fff" stroke="#000" stroke-width="1.3"/>
<text x="59.40" y="572.60" font-size="19.5" text-anchor="end" style="font-family:'Liberation Sans',sans-serif" >0</text>
<text x="59.40" y="510.56" font-size="19.5" text-anchor="end" style="font-family:'Liberation Sans',sans-serif" >1</text>
<text x="59.40" y="448.53" font-size="19.5" text-anchor="end" style="font-family:'Liberation Sans',sans-serif" >2</text>
<text x="59.40" y="386.49" font-size="19.5" text-anchor="end" style="font-family:'Liberation Sans',sans-serif" >3</text>
<text x="59.40" y="324.45" font-size="19.5" text-anchor="end" style="font-family:'Liberation Sans',sans-serif" >4</text>
<text x="59.40" y="262.41" font-size="19.5" text-anchor="end" style="font-family:'Liberation Sans',sans-serif" >5</text>
<text x="59.40" y="200.37" font-size="19.5" text-anchor="end" style="font-family:'Liberation Sans',sans-serif" >6</text>
<text x="59.40" y="138.34" font-size="19.5" text-anchor="end" style="font-family:'Liberation Sans',sans-serif" >7</text>
<text x="59.40" y="76.30" font-size="19.5" text-anchor="end" style="font-family:'Liberation Sans',sans-serif" >8</text>
<text x="66.40" y="587.40" font-size="19.5" text-anchor="middle" style="font-family:'Liberation Sans',sans-serif" >0</text>
<text x="208.42" y="587.40" font-size="19.5" text-anchor="middle" style="font-family:'Liberation Sans',sans-serif" >5</text>
<text x="350.44" y="587.40" font-size="19.5" text-anchor="middle" style="font-family:'Liberation Sans',sans-serif" >10</text>
<text x="492.46" y="587.40" font-size="19.5" text-anchor="middle" style="font-family:'Liberation Sans',sans-serif" >15</text>
<text x="634.48" y="587.40" font-size="19.5" text-anchor="middle" style="font-family:'Liberation Sans',sans-serif" >20</text>
<text x="776.50" y="587.40" font-size="19.5" text-anchor="middle" style="font-family:'Liberation Sans',sans-serif" >25</text>
<text x="66.40" y="61.20" font-size="19.5" text-anchor="middle" style="font-family:'Liberation Sans',sans-serif" >0</text>
<text x="155.63" y="61.20" font-size="19.5" text-anchor="middle" style="font-family:'Liberation Sans',sans-serif" >1</text>
<text x="244.87" y="61.20" font-size="19.5" text-anchor="middle" style="font-family:'Liberation Sans',sans-serif" >2</text>
<text x="334.10" y="61.20" font-size="19.5" text-anchor="middle" style="font-family:'Liberation Sans',sans-serif" >3</text>
<text x="423.34" y="61.20" font-size="19.5" text-anchor="middle" style="font-family:'Liberation Sans',sans-serif" >4</text>
<text x="512.57" y="61.20" font-size="19.5" text-anchor="middle" style="font-family:'Liberation Sans',sans-serif" >5</text>
<text x="601.80" y="61.20" font-size="19.5" text-anchor="middle" style="font-family:'Liberation Sans',sans-serif" >6</text>
<text x="691.04" y="61.20" font-size="19.5" text-anchor="middle" style="font-family:'Liberation Sans',sans-serif" >7</text>
<text x="378.80" y="289.10" font-size="19.5" text-anchor="end" style="font-family:'Liberation Sans',sans-serif" >0</text>
<text x="378.80" y="238.53" font-size="19.5" text-anchor="end" style="font-family:'Liberation Sans',sans-serif" >2</text>
<text x="378.80" y="187.96" font-size="19.5" text-anchor="end" style="font-family:'Liberation Sans',sans-serif" >4</text>
<text x="378.80" y="137.39" font-size="19.5" text-anchor="end" style="font-family:'Liberation Sans',sans-serif" >6</text>
<text x="386.30" y="302.60" font-size="19.5" text-anchor="middle" style="font-family:'Liberation Sans',sans-serif" >0</text>
<text x="457.36" y="302.60" font-size="19.5" text-anchor="middle" style="font-family:'Liberation Sans',sans-serif" >10</text>
<text x="528.42" y="302.60" font-size="19.5" text-anchor="middle" style="font-family:'Liberation Sans',sans-serif" >20</text>
<text x="599.48" y="302.60" font-size="19.5" text-anchor="middle" style="font-family:'Liberation Sans',sans-serif" >30</text>
<text x="670.54" y="302.60" font-size="19.5" text-anchor="middle" style="font-family:'Liberation Sans',sans-serif" >40</text>
<text x="741.60" y="302.60" font-size="19.5" text-anchor="middle" style="font-family:'Liberation Sans',sans-serif" >50</text>
<text x="386.30" y="97.00" font-size="19.5" text-anchor="middle" style="font-family:'Liberation Sans',sans-serif" >0</text>
<text x="475.60" y="97.00" font-size="19.5" text-anchor="middle" style="font-family:'Liberation Sans',sans-serif" >1</text>
<text x="564.89" y="97.00" font-size="19.5" text-anchor="middle" style="font-family:'Liberation Sans',sans-serif" >2</text>
<text x="654.19" y="97.00" font-size="19.5" text-anchor="middle" style="font-family:'Liberation Sans',sans-serif" >3</text>
<text x="394.70" y="24.00" font-size="30" style="font-family:'Liberation Sans',sans-serif">t/</text>
<path transform="translate(411.37,24.00)" d="M13.1,-15.3 L4.6,-15.3 C2.6,-15.3 1.2,-13.2 0.5,-9.9 L1.1,-9.7 C1.8,-11.6 2.8,-12.5 4.4,-12.5 L5.8,-12.5 L5.8,-4.2 C5.8,-1.2 6.9,0.2 8.9,0.2 C11,0.2 12.3,-1.8 12.5,-5.3 L11.8,-5.4 C11.5,-3.4 10.8,-2.3 9.7,-2.3 C8.6,-2.3 8.1,-3.2 8.1,-5 L8.1,-12.5 L13.1,-12.5 Z" fill="#000"/>
<text x="424.57" y="35.00" font-size="21" style="font-family:'Liberation Sans',sans-serif">ph</text>
<text x="400.20" y="617.40" font-size="30" style="font-family:'Liberation Sans',sans-serif">t/</text>
<path transform="translate(416.87,617.40)" d="M13.1,-15.3 L4.6,-15.3 C2.6,-15.3 1.2,-13.2 0.5,-9.9 L1.1,-9.7 C1.8,-11.6 2.8,-12.5 4.4,-12.5 L5.8,-12.5 L5.8,-4.2 C5.8,-1.2 6.9,0.2 8.9,0.2 C11,0.2 12.3,-1.8 12.5,-5.3 L11.8,-5.4 C11.5,-3.4 10.8,-2.3 9.7,-2.3 C8.6,-2.3 8.1,-3.2 8.1,-5 L8.1,-12.5 L13.1,-12.5 Z" fill="#000"/>
<text x="430.07" y="628.90" font-size="21" style="font-family:'Liberation Sans',sans-serif">e</text>
<text x="132.3" y="140.4" font-size="30" style="font-family:'Liberation Sans',sans-serif"><tspan style="font-family:'Liberation Serif',serif" font-size="33">ε</tspan><tspan dy="11" dx="-1.0" font-size="21">p</tspan><tspan dy="-11">=3, </tspan><tspan style="font-family:'Liberation Serif',serif" font-size="33">ω</tspan><tspan dy="11" dx="-0.6" font-size="21">0</tspan><tspan dy="-11">=2</tspan></text>
<text transform="translate(28.9,401.9) rotate(-90)" font-size="30" style="font-family:'Liberation Sans',sans-serif"><tspan style="font-family:'Liberation Serif',serif">Σ</tspan><tspan dy="11" dx="-1.0" font-size="21">i</tspan><tspan dy="-9.2" dx="9.9" font-size="28.5">&lt;</tspan><tspan dy="-1.8" dx="8.3">b</tspan><tspan dy="11" font-size="21">i</tspan><tspan dy="-27" dx="-5.5" font-size="21">+</tspan><tspan dy="16" dx="2.1">b</tspan><tspan dy="11" font-size="21">i</tspan><tspan dy="-9.2" dx="8.8" font-size="28.5">&gt;</tspan><tspan dy="-1.8" dx="9.2">(</tspan><tspan dx="-0.4">t</tspan><tspan dx="-0.6">)</tspan></text>
<rect x="598" y="481" width="137" height="79.9" fill="#fff"/>
<path d="M606.5,496.80 H634.9" stroke="#000" stroke-width="1.9" fill="none" />
<text x="650.00" y="504.60" font-size="24" text-anchor="start" style="font-family:'Liberation Serif',serif" >K=<tspan font-size="26.4">π</tspan>/9</text>
<path d="M606.5,520.95 H634.9" stroke="#00f" stroke-width="1.9" fill="none" />
<text x="650.00" y="528.75" font-size="24" text-anchor="start" style="font-family:'Liberation Serif',serif" >K=4<tspan dx="0.8" font-size="26.4">π</tspan>/9</text>
<path d="M606.5,545.10 H634.9" stroke="#f00" stroke-width="1.9" fill="none" stroke-dasharray="11 5.4"/>
<text x="650.00" y="552.90" font-size="24" text-anchor="start" style="font-family:'Liberation Serif',serif" >K=<tspan font-size="26.4">π</tspan>/2</text>
<path d="M464.6,224.6 H493.0" stroke="#008b00" stroke-width="1.9" fill="none"/>
<text x="508.30" y="231.60" font-size="19.2" text-anchor="start" style="font-family:'Liberation Serif',serif" >K=<tspan font-size="21">π</tspan>/2</text>
<text x="605.3" y="247.0" font-size="19.5" style="font-family:'Liberation Sans',sans-serif"><tspan style="font-family:'Liberation Serif',serif" font-size="21.5">ε</tspan><tspan dy="7" dx="-0.6" font-size="13.65">p</tspan><tspan dy="-7" dx="0.7">=1, </tspan><tspan style="font-family:'Liberation Serif',serif" font-size="21.5">ω</tspan><tspan dy="7" dx="-0.4" font-size="13.65">0</tspan><tspan dy="-7" dx="0.5">=0.5</tspan></text>
</svg>
</body></html>
